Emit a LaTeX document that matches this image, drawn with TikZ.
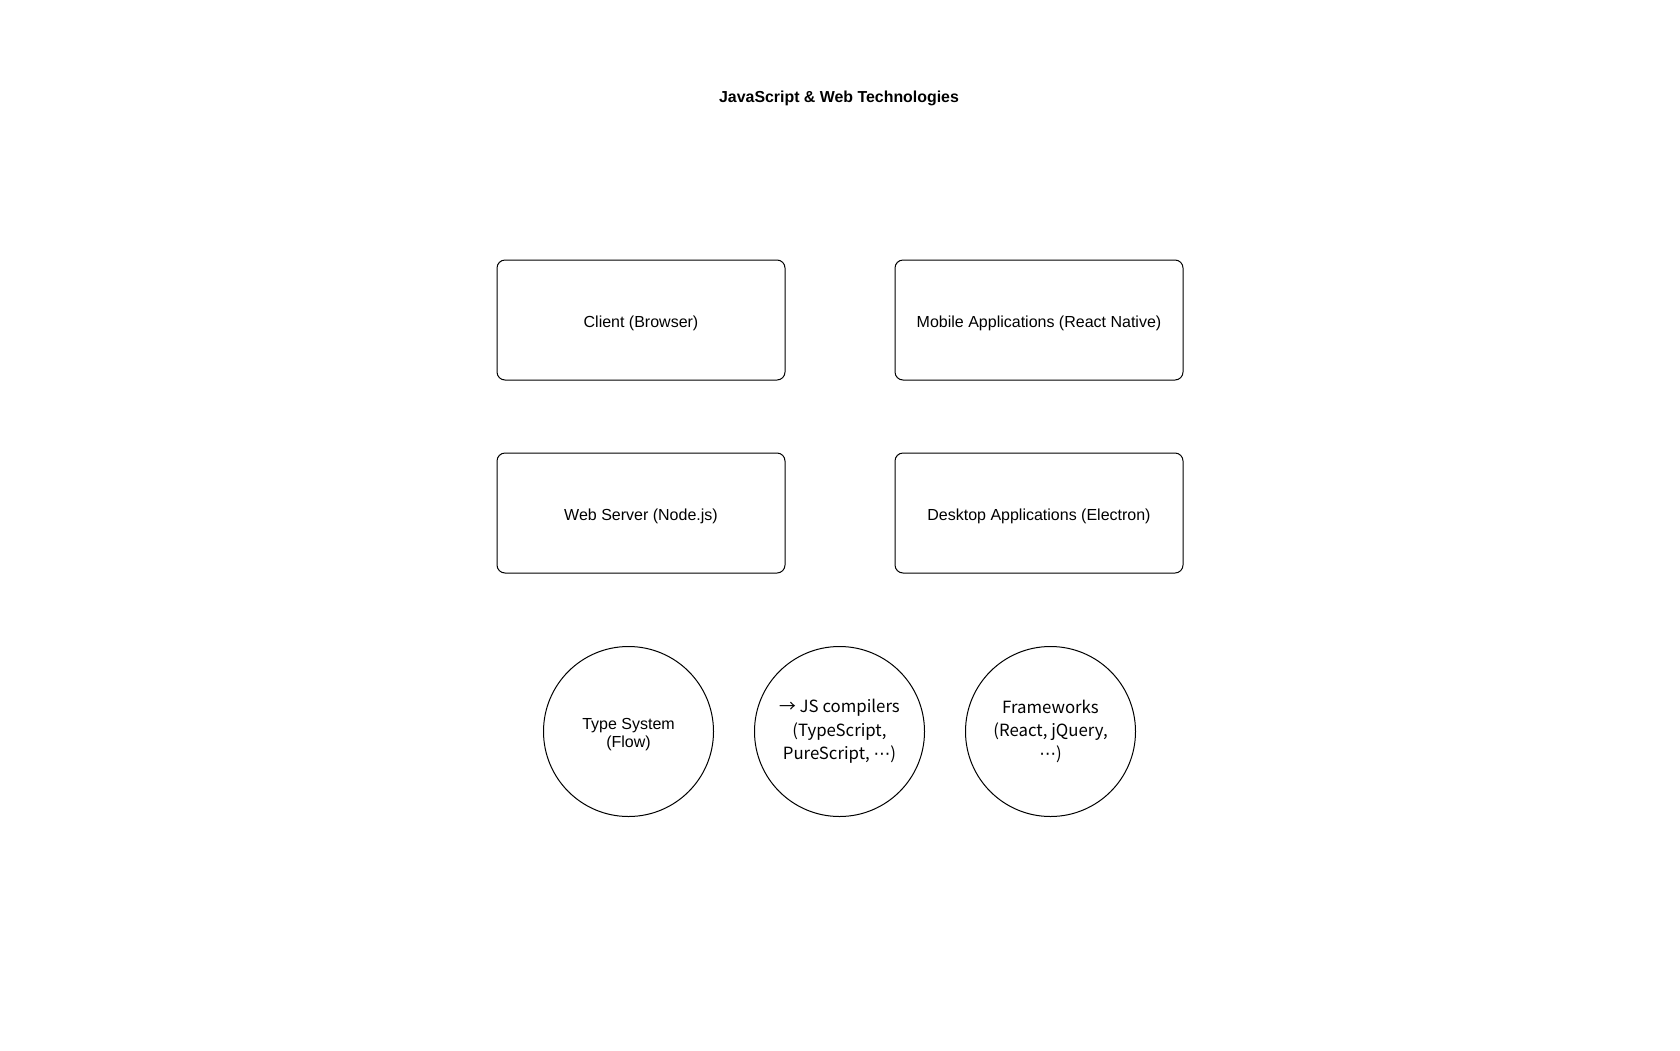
\documentclass[tikz,border=0pt]{standalone}
\usepackage{fontspec}
\setmainfont{Liberation Sans}
\newfontfamily\jpfont{Noto Sans CJK JP}
\newfontfamily\dvfont{DejaVu Sans}
\newcommand{\midellip}{{\dvfont ⋯}}
\begin{document}
\begin{tikzpicture}[x=1pt,y=-1pt,
  box/.style={draw=black,line width=1pt,rounded corners=8pt,minimum width=288pt,minimum height=120pt,inner sep=0pt,font=\fontsize{16}{19}\selectfont},
  lbl/.style={inner sep=0pt,font=\fontsize{16}{19}\selectfont},
  circ/.style={draw=black,line width=1pt,circle,minimum size=170pt,inner sep=0pt,align=center},
  titlestyle/.style={font=\fontsize{15.9}{19}\selectfont\bfseries}]
\useasboundingbox (0,0) rectangle (1680,1050);
\fill[white] (0,0) rectangle (1680,1050);
\node[titlestyle] (title) at (839,98) {JavaScript \& Web Technologies};
\node[box] (client) at (641,320) {};
\node[lbl] at ([yshift=-3pt]client.center) {Client (Browser)};
\node[box] (mobile) at (1039,320) {};
\node[lbl] at ([yshift=-3pt]mobile.center) {Mobile Applications (React Native)};
\node[box] (server) at (641,513) {};
\node[lbl] at ([yshift=-3pt]server.center) {Web Server (Node.js)};
\node[box] (desktop) at (1039,513) {};
\node[lbl] at ([yshift=-3pt]desktop.center) {Desktop Applications (Electron)};
\node[circ] (types) at (628.5,731.5) {};
\node[align=center,inner sep=0pt,font=\fontsize{16}{18.2}\selectfont] at ([yshift=-3pt]types.center) {Type System\\(Flow)};
\node[circ,font=\jpfont\fontsize{16.8}{23.4}\selectfont] (compilers) at (839.5,731.5) {→ JS compilers\\(TypeScript,\\PureScript, \midellip)};
\node[circ,font=\jpfont\fontsize{16.8}{23.4}\selectfont] (frameworks) at (1050.5,731.5) {Frameworks\\(React, jQuery,\\\midellip)};
\end{tikzpicture}
\end{document}
